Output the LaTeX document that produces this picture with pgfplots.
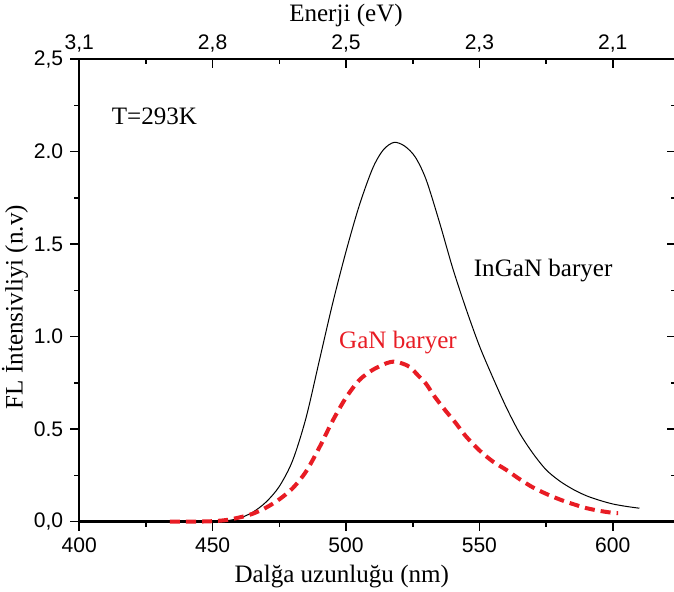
\documentclass[border=0pt]{standalone}
\usepackage{fontspec}
\setmainfont{Liberation Serif}
\newfontfamily\arialf{Liberation Sans}
\usepackage{pgfplots}
\pgfplotsset{compat=1.18}
\definecolor{gred}{RGB}{232,28,36}
\begin{document}
\begin{tikzpicture}
\begin{axis}[scale only axis, width=297.5pt, height=230.5pt,
 xmin=400, xmax=623.7, ymin=0, ymax=2.5,
 axis x line*=bottom, axis y line*=left,
 axis line style={line width=1.1pt, -},
 tick align=outside, tick style={black, line width=0.8pt},
 major tick length=4.5pt, minor tick length=2.5pt,
 xtick={400,450,500,550,600}, xticklabels={400,450,500,550,600},
 minor xtick={425,475,525,575},
 ytick={0,0.5,1,1.5,2,2.5}, yticklabels={{0,0},0.5,1.0,1.5,2.0,{2,5}},
 minor ytick={0.25,0.75,1.25,1.75,2.25},
 ticklabel style={font=\arialf\fontsize{10.5}{10.5}\selectfont},
 xlabel={Dalğa uzunluğu (nm)}, ylabel={FL İntensivliyi (n.v)},
 label style={font=\fontsize{12.5}{12.5}\selectfont},
 xlabel style={at={(axis description cs:0.44,-0.1193)}, anchor=center},
 ylabel style={at={(axis description cs:-0.1076,0.464)}, anchor=center},
 clip=false]
\addplot[black, line width=0.5pt, smooth, tension=0.5] coordinates {
(450,0) (455,0.004) (460,0.018) (465,0.05) (470,0.105) (475,0.19)
(480,0.33) (485,0.56) (490,0.87) (495,1.18) (500,1.46) (505,1.71)
(510,1.91) (514,2.01) (518,2.05) (522,2.03) (526,1.97) (530,1.85)
(535,1.62) (540,1.37) (545,1.15) (550,0.95) (555,0.78) (560,0.62)
(565,0.48) (570,0.37) (575,0.28) (580,0.22) (585,0.175) (590,0.14)
(595,0.115) (600,0.095) (605,0.082) (610,0.072)};
\addplot[gred, line width=2pt, dash pattern=on 5pt off 3pt, smooth, tension=0.5] coordinates {
(434,0) (445,0) (450,0.002) (455,0.008) (460,0.022) (465,0.042) (470,0.075)
(475,0.12) (480,0.18) (485,0.27) (490,0.40) (495,0.545) (500,0.67)
(505,0.765) (510,0.82) (515,0.855) (518,0.865) (521,0.855) (524,0.835)
(527,0.79) (530,0.745) (533,0.68) (537,0.605) (541,0.535) (545,0.46)
(550,0.385) (555,0.325) (560,0.28) (565,0.23) (570,0.185) (575,0.15)
(580,0.12) (585,0.095) (590,0.073) (595,0.058) (600,0.047) (602,0.045)};
\node[font=\fontsize{12.5}{12.5}\selectfont] at (axis cs:428.2,2.19) {T=293K};
\node[font=\fontsize{12.5}{12.5}\selectfont] at (axis cs:573.9,1.36) {InGaN baryer};
\node[font=\fontsize{12.5}{12.5}\selectfont, text=gred] at (axis cs:519.5,0.97) {GaN baryer};
\coordinate (BL) at (rel axis cs:0,0);
\coordinate (TR) at (rel axis cs:1,1);
\end{axis}
\begin{axis}[scale only axis, width=297.5pt, height=230.5pt,
 xmin=400, xmax=623.7, ymin=0, ymax=2.5,
 axis x line*=top, axis y line*=right,
 axis line style={line width=1.1pt, -},
 tick align=inside, tick style={black, line width=0.8pt},
 major tick length=4.5pt, minor tick length=2.5pt,
 xtick={400,450,500,550,600}, xticklabels={{3,1},{2,8},{2,5},{2,3},{2,1}},
 minor xtick={425,475,525,575},
 ytick={0,0.5,1,1.5,2,2.5}, yticklabels={},
 minor ytick={0.25,0.75,1.25,1.75,2.25},
 ticklabel style={font=\arialf\fontsize{10.5}{10.5}\selectfont},
 xlabel={Enerji (eV)},
 label style={font=\fontsize{12.5}{12.5}\selectfont},
 xlabel style={at={(axis description cs:0.447,1.0954)}, anchor=center}]
\end{axis}
\pgfresetboundingbox
\path[use as bounding box] ([xshift=-39.5pt,yshift=-35pt]BL) rectangle ([xshift=-1pt,yshift=29.5pt]TR);
\end{tikzpicture}
\end{document}
